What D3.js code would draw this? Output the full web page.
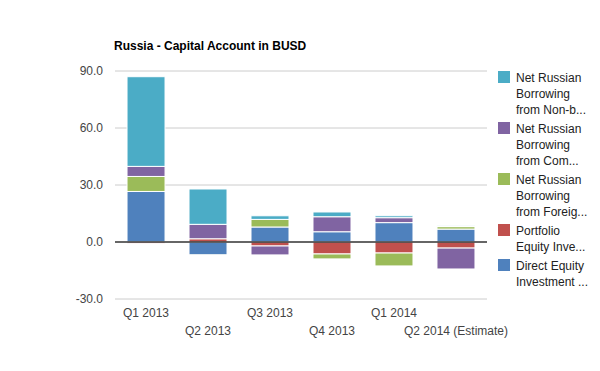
<!DOCTYPE html>
<html>
<head>
<meta charset="utf-8">
<script src="https://cdn.jsdelivr.net/npm/d3@7"></script>
<style>
  body { margin: 0; background: #fff; }
  svg { font-family: Arial, "Liberation Sans", sans-serif; }
</style>
</head>
<body>
<svg></svg>
<script>
// quarters and series values (billion USD)
const categories = ["Q1 2013", "Q2 2013", "Q3 2013", "Q4 2013", "Q1 2014", "Q2 2014 (Estimate)"];
const directEquity = [26.6, -6.8, 7.9, 5.4, 10.2, 6.8];
const portfolioEquity = [-0.7, 1.7, -2.1, -6.3, -5.8, -3.2];
const foreignBorrowing = [7.9, -0.4, 4.0, -2.6, -6.8, 1.3];
const comBorrowing = [5.3, 7.6, -4.7, 7.9, 2.6, -11.0];
const nonBankBorrowing = [47.2, 18.6, 1.9, 2.5, 1.0, 0.5];
const yTicks = [-30, 0, 30, 60, 90];

const seriesNames = [
  "Direct Equity Investment ...",
  "Portfolio Equity Inve...",
  "Net Russian Borrowing from Foreig...",
  "Net Russian Borrowing from Com...",
  "Net Russian Borrowing from Non-b..."
];
// legend text is wrapped in lines like the original
const legendLines = [
  ["Direct Equity", "Investment ..."],
  ["Portfolio", "Equity Inve..."],
  ["Net Russian", "Borrowing", "from Foreig..."],
  ["Net Russian", "Borrowing", "from Com..."],
  ["Net Russian", "Borrowing", "from Non-b..."]
];
const colors = ["#4f81bd", "#c0504d", "#9bbb59", "#8064a2", "#4bacc6"];
const allSeries = [directEquity, portfolioEquity, foreignBorrowing, comBorrowing, nonBankBorrowing];

const w = 600;
const h = 371;
const svg = d3.select("svg").attr("width", w).attr("height", h);

const plotLeft = 115, plotRight = 487, plotTop = 71, plotBottom = 299;

// build rows for d3.stack
const rows = categories.map((c, i) => {
  const r = { cat: c };
  seriesNames.forEach((s, j) => r[s] = allSeries[j][i]);
  return r;
});

const stack = d3.stack()
  .keys(seriesNames)
  .offset(d3.stackOffsetDiverging);
const layers = stack(rows);

const xScale = d3.scaleBand()
  .domain(categories)
  .range([plotLeft, plotRight])
  .paddingInner(0.387)
  .paddingOuter(0.194);

const yScale = d3.scaleLinear()
  .domain([-30, 90])
  .range([plotBottom, plotTop]);

// title
svg.append("text")
  .attr("x", 114)
  .attr("y", 50)
  .attr("font-size", 12)
  .attr("font-weight", "bold")
  .attr("fill", "#000")
  .text("Russia - Capital Account in BUSD");

// gridlines
svg.append("g")
  .selectAll("line")
  .data(yTicks.filter(t => t !== 0))
  .enter()
  .append("line")
  .attr("x1", plotLeft)
  .attr("x2", plotRight)
  .attr("y1", d => yScale(d))
  .attr("y2", d => yScale(d))
  .attr("stroke", "#cccccc")
  .attr("stroke-width", 1);

// y axis labels (plain hyphen for negatives)
const yAxis = d3.axisLeft(yScale)
  .tickValues(yTicks)
  .tickFormat(d => d.toFixed(1))
  .tickSize(0)
  .tickPadding(12);
const gy = svg.append("g")
  .attr("transform", "translate(" + plotLeft + ",0)")
  .call(yAxis);
gy.select(".domain").remove();
gy.selectAll("text")
  .attr("font-size", 12)
  .attr("font-family", "Arial, 'Liberation Sans', sans-serif")
  .attr("fill", "#444");

// bars
svg.append("g")
  .selectAll("g")
  .data(layers)
  .enter()
  .append("g")
  .attr("fill", (d, i) => colors[i])
  .selectAll("rect")
  .data(d => d)
  .enter()
  .append("rect")
  .attr("x", d => xScale(d.data.cat))
  .attr("width", xScale.bandwidth())
  .attr("y", d => yScale(Math.max(d[0], d[1])))
  .attr("height", d => Math.abs(yScale(d[0]) - yScale(d[1])))
  .attr("stroke", "#fff")
  .attr("stroke-width", 1);

// zero line
svg.append("line")
  .attr("x1", plotLeft)
  .attr("x2", plotRight)
  .attr("y1", yScale(0))
  .attr("y2", yScale(0))
  .attr("stroke", "#333")
  .attr("stroke-width", 1.5);

// x labels, alternating rows
svg.append("g")
  .selectAll("text")
  .data(categories)
  .enter()
  .append("text")
  .attr("x", d => xScale(d) + xScale.bandwidth() / 2)
  .attr("y", (d, i) => i % 2 === 0 ? 317 : 335)
  .attr("text-anchor", "middle")
  .attr("font-size", 12)
  .attr("fill", "#444")
  .text(d => d);

// legend (reverse order, top = last series)
const legend = svg.append("g");
let ly = 71;
for (let k = seriesNames.length - 1; k >= 0; k--) {
  const g = legend.append("g").attr("transform", "translate(498," + ly + ")");
  g.append("rect")
    .attr("width", 12)
    .attr("height", 12)
    .attr("fill", colors[k]);
  g.selectAll("text")
    .data(legendLines[k])
    .enter()
    .append("text")
    .attr("x", 18)
    .attr("y", (d, i) => 11 + i * 16)
    .attr("font-size", 12)
    .attr("fill", "#222")
    .text(d => d);
  ly += legendLines[k].length * 16 + 3;
}
</script>
</body>
</html>
